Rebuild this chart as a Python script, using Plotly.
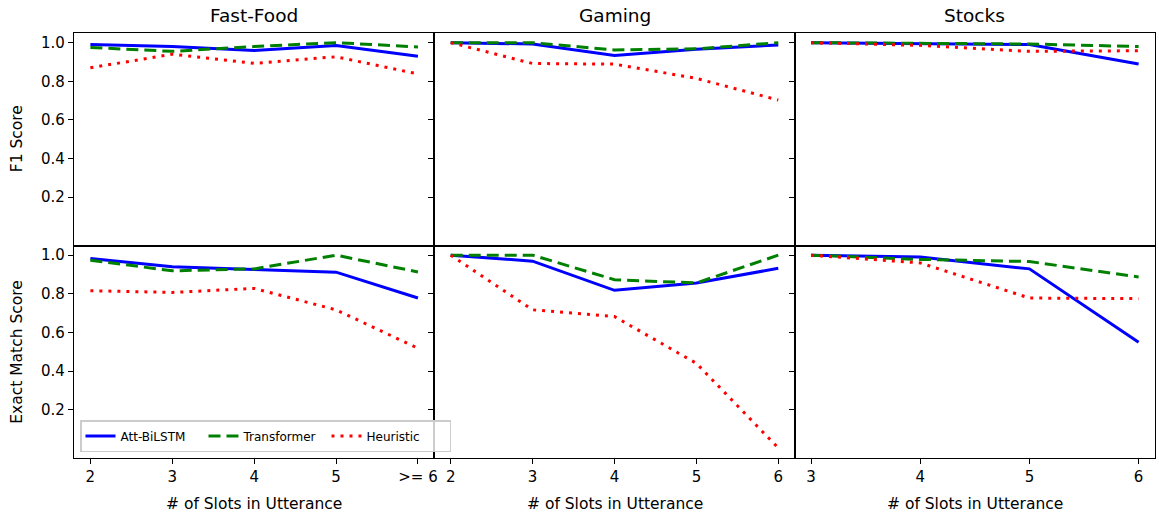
import plotly.graph_objects as go
from plotly.subplots import make_subplots

# ---- data ----
domains = ["Fast-Food", "Gaming", "Stocks"]
x_labels_fastfood = ["2", "3", "4", "5", ">= 6"]
x_labels_gaming = ["2", "3", "4", "5", "6"]
x_labels_stocks = ["3", "4", "5", "6"]

models = ["Att-BiLSTM", "Transformer", "Heuristic"]

# F1 scores
f1_fastfood_bilstm = [0.99, 0.98, 0.96, 0.985, 0.93]
f1_fastfood_transformer = [0.975, 0.955, 0.98, 1.0, 0.978]
f1_fastfood_heuristic = [0.87, 0.94, 0.893, 0.927, 0.838]

f1_gaming_bilstm = [1.0, 0.993, 0.933, 0.966, 0.988]
f1_gaming_transformer = [1.0, 1.0, 0.962, 0.968, 1.0]
f1_gaming_heuristic = [1.0, 0.892, 0.889, 0.815, 0.703]

f1_stocks_bilstm = [1.0, 0.995, 0.99, 0.889]
f1_stocks_transformer = [1.0, 0.997, 0.993, 0.98]
f1_stocks_heuristic = [1.0, 0.986, 0.955, 0.958]

# Exact match scores
em_fastfood_bilstm = [0.983, 0.94, 0.926, 0.912, 0.778]
em_fastfood_transformer = [0.974, 0.919, 0.929, 1.0, 0.913]
em_fastfood_heuristic = [0.816, 0.807, 0.828, 0.717, 0.518]

em_gaming_bilstm = [1.0, 0.969, 0.818, 0.856, 0.932]
em_gaming_transformer = [1.0, 1.0, 0.873, 0.856, 1.0]
em_gaming_heuristic = [1.0, 0.717, 0.682, 0.44, 0.002]

em_stocks_bilstm = [1.0, 0.99, 0.929, 0.549]
em_stocks_transformer = [1.0, 0.978, 0.967, 0.887]
em_stocks_heuristic = [1.0, 0.96, 0.778, 0.775]

y_ticks = [0.2, 0.4, 0.6, 0.8, 1.0]
y_tick_text = ["0.2", "0.4", "0.6", "0.8", "1.0"]

# ---- style ----
FONT = "DejaVu Sans"
colors = ["#0000ff", "#008000", "#ff0000"]
dashes = ["solid", "12px,6px", "3px,6px"]

x_labels = [x_labels_fastfood, x_labels_gaming, x_labels_stocks]
f1 = [
    [f1_fastfood_bilstm, f1_fastfood_transformer, f1_fastfood_heuristic],
    [f1_gaming_bilstm, f1_gaming_transformer, f1_gaming_heuristic],
    [f1_stocks_bilstm, f1_stocks_transformer, f1_stocks_heuristic],
]
em = [
    [em_fastfood_bilstm, em_fastfood_transformer, em_fastfood_heuristic],
    [em_gaming_bilstm, em_gaming_transformer, em_gaming_heuristic],
    [em_stocks_bilstm, em_stocks_transformer, em_stocks_heuristic],
]

fig = make_subplots(rows=2, cols=3, horizontal_spacing=0, vertical_spacing=0)

for c in range(3):
    xs = list(range(len(x_labels[c])))
    for r, data in enumerate([f1, em]):
        for m in range(3):
            fig.add_trace(
                go.Scatter(
                    x=xs,
                    y=data[c][m],
                    mode="lines",
                    name=models[m],
                    legendgroup=models[m],
                    showlegend=(r == 1 and c == 0),
                    line=dict(color=colors[m], width=3, dash=dashes[m]),
                ),
                row=r + 1,
                col=c + 1,
            )

for c in range(3):
    n = len(x_labels[c])
    pad = 0.05 * (n - 1)
    for r in range(2):
        fig.update_xaxes(
            range=[-pad, n - 1 + pad],
            tickvals=list(range(n)),
            ticktext=x_labels[c],
            showticklabels=(r == 1),
            ticks="outside" if r == 1 else "",
            ticklen=5,
            tickwidth=1.2,
            tickcolor="black",
            showline=True,
            mirror=True,
            linecolor="black",
            linewidth=1.2,
            showgrid=False,
            zeroline=False,
            tickfont=dict(family=FONT, size=15, color="black"),
            row=r + 1,
            col=c + 1,
        )
        fig.update_yaxes(
            range=[-0.05, 1.05],
            tickvals=y_ticks,
            ticktext=y_tick_text,
            showticklabels=(c == 0),
            ticks="outside",
            ticklen=5,
            tickwidth=1.2,
            tickcolor="black",
            showline=True,
            mirror=True,
            linecolor="black",
            linewidth=1.2,
            showgrid=False,
            zeroline=False,
            tickfont=dict(family=FONT, size=15, color="black"),
            row=r + 1,
            col=c + 1,
        )

annotations = []
col_centers = [1 / 6, 0.5, 5 / 6]
for c in range(3):
    annotations.append(dict(
        text=domains[c], x=col_centers[c], y=1.0, xref="paper", yref="paper",
        xanchor="center", yanchor="bottom", yshift=5, showarrow=False,
        font=dict(family=FONT, size=18.5, color="black"),
    ))
    annotations.append(dict(
        text="# of Slots in Utterance", x=col_centers[c], y=0.0, xref="paper", yref="paper",
        xanchor="center", yanchor="top", yshift=-35, showarrow=False,
        font=dict(family=FONT, size=15.5, color="black"),
    ))
annotations.append(dict(
    text="F1 Score", x=0.0, y=0.75, xref="paper", yref="paper",
    xanchor="center", yanchor="middle", xshift=-57, textangle=-90, showarrow=False,
    font=dict(family=FONT, size=15.5, color="black"),
))
annotations.append(dict(
    text="Exact Match Score", x=0.0, y=0.25, xref="paper", yref="paper",
    xanchor="center", yanchor="middle", xshift=-57, textangle=-90, showarrow=False,
    font=dict(family=FONT, size=15.5, color="black"),
))

fig.update_layout(
    width=1159,
    height=516,
    margin=dict(l=74, r=1, t=33, b=58),
    paper_bgcolor="white",
    plot_bgcolor="white",
    font=dict(family=FONT, color="black"),
    annotations=annotations,
    legend=dict(
        orientation="h",
        x=0.006,
        y=0.014,
        xanchor="left",
        yanchor="bottom",
        bgcolor="rgba(255,255,255,0.8)",
        bordercolor="#cccccc",
        borderwidth=1.5,
        font=dict(family=FONT, size=12, color="black"),
        entrywidth=78,
        entrywidthmode="pixels",
        itemwidth=30,
        tracegroupgap=0,
    ),
)

# remove the default page margin so the figure fills the window exactly
fig.write_html(
    "out.html",
    config={"displayModeBar": False},
    post_script="document.body.style.margin='0';document.body.style.overflow='hidden';",
)
